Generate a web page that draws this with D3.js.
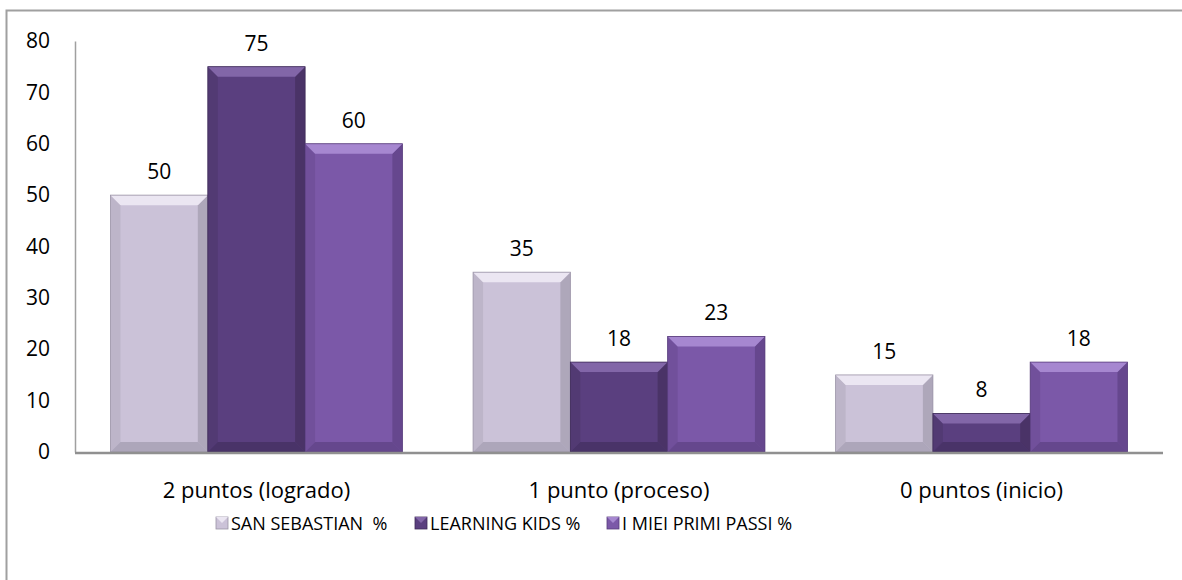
<!DOCTYPE html>
<html>
<head>
<meta charset="utf-8">
<script src="https://cdn.jsdelivr.net/npm/d3@7"></script>
<style>
  body { margin: 0; background: #fff; }
  svg { font-family: "Open Sans", Lato, sans-serif; }
</style>
</head>
<body>
<svg width="1182" height="580"></svg>
<script>
var categories = ['2 puntos (logrado)', '1 punto (proceso)', '0 puntos (inicio)'];
var seriesNames = ['SAN SEBASTIAN  %', 'LEARNING KIDS %', 'I MIEI PRIMI PASSI %'];
var sanSebastian = [50, 35, 15];
var learningKids = [75, 17.5, 7.5];
var primiPassi = [60, 22.5, 17.5];
var yTicks = [0, 10, 20, 30, 40, 50, 60, 70, 80];

var colors = [
  { face: '#cbc2d8', top: '#ebe6f2', side: '#a49db0', bottom: '#9a93a6' },
  { face: '#5a3f7f', top: '#8266a8', side: '#45305f', bottom: '#3e2b58' },
  { face: '#7b58a8', top: '#a687d0', side: '#5f4285', bottom: '#573c7b' }
];
var BEVEL = 10;

var svg = d3.select('svg');

// chart area border (left + top only visible)
svg.append('path')
  .attr('d', 'M6.5,600 L6.5,10.5 L1190,10.5')
  .attr('fill', 'none')
  .attr('stroke', '#a0a0a0')
  .attr('stroke-width', 2);

var x0 = d3.scaleBand().domain(categories).range([75, 1163]).paddingInner(0.195).paddingOuter(0.098);
var x1 = d3.scaleBand().domain(d3.range(3)).range([0, x0.bandwidth()]);
var y = d3.scaleLinear().domain([0, 80]).range([452, 41]);

var series = [sanSebastian, learningKids, primiPassi];

// y axis
var yAxis = svg.append('g').attr('transform', 'translate(75,0)')
  .call(d3.axisLeft(y).tickValues(yTicks).tickSize(0).tickPadding(25));
yAxis.select('.domain').attr('stroke', '#a0a0a0').attr('stroke-width', 1.5);
yAxis.selectAll('text').attr('font-size', 21).attr('fill', '#000').attr('font-family', '"Open Sans", sans-serif');

// bars with bevel
categories.forEach(function (cat, ci) {
  series.forEach(function (vals, si) {
    var c = colors[si];
    var bx = x0(cat) + x1(si);
    var bw = x1.bandwidth();
    var by = y(vals[ci]);
    var bh = y(0) - by;
    var b = Math.min(BEVEL, bh / 2);
    var g = svg.append('g');
    g.append('rect').attr('x', bx).attr('y', by).attr('width', bw).attr('height', bh).attr('fill', c.face);
    // left
    g.append('polygon').attr('points', [[bx, by], [bx + b, by + b], [bx + b, by + bh - b], [bx, by + bh]].join(' '))
      .attr('fill', c.side).attr('opacity', 0.35);
    // right
    g.append('polygon').attr('points', [[bx + bw, by], [bx + bw - b, by + b], [bx + bw - b, by + bh - b], [bx + bw, by + bh]].join(' '))
      .attr('fill', c.side).attr('opacity', 0.75);
    // bottom
    g.append('polygon').attr('points', [[bx, by + bh], [bx + b, by + bh - b], [bx + bw - b, by + bh - b], [bx + bw, by + bh]].join(' '))
      .attr('fill', c.bottom).attr('opacity', 0.6);
    // top
    g.append('polygon').attr('points', [[bx, by], [bx + b, by + b], [bx + bw - b, by + b], [bx + bw, by]].join(' '))
      .attr('fill', c.top);
    g.append('rect').attr('x', bx).attr('y', by).attr('width', bw).attr('height', bh)
      .attr('fill', 'none').attr('stroke', c.bottom).attr('stroke-width', 0.8);
    svg.append('text')
      .attr('x', bx + bw / 2).attr('y', by - 16)
      .attr('text-anchor', 'middle').attr('font-size', 21).attr('fill', '#000')
      .text(Math.round(vals[ci]));
  });
});

// baseline
svg.append('line').attr('x1', 75).attr('x2', 1163).attr('y1', y(0) + 1).attr('y2', y(0) + 1)
  .attr('stroke', '#909090').attr('stroke-width', 2.5);

// category labels
svg.selectAll('.cat').data(categories).enter().append('text')
  .attr('x', function (d) { return x0(d) + x0.bandwidth() / 2; })
  .attr('y', 498)
  .attr('text-anchor', 'middle').attr('font-size', 22).attr('fill', '#000')
  .text(function (d) { return d; });

// legend
var legendX = [216, 415, 607];
seriesNames.forEach(function (name, i) {
  var c = colors[i];
  var lg = svg.append('g').attr('transform', 'translate(' + legendX[i] + ',517)');
  lg.append('rect').attr('width', 12).attr('height', 12).attr('fill', c.face).attr('stroke', c.bottom).attr('stroke-width', 0.8);
  lg.append('polygon').attr('points', '0,0 6,6 12,0').attr('fill', c.top);
  lg.append('text').attr('x', 15).attr('y', 13).attr('font-size', 18).attr('fill', '#000')
    .style('white-space', 'pre').text(name);
});
</script>
</body>
</html>
